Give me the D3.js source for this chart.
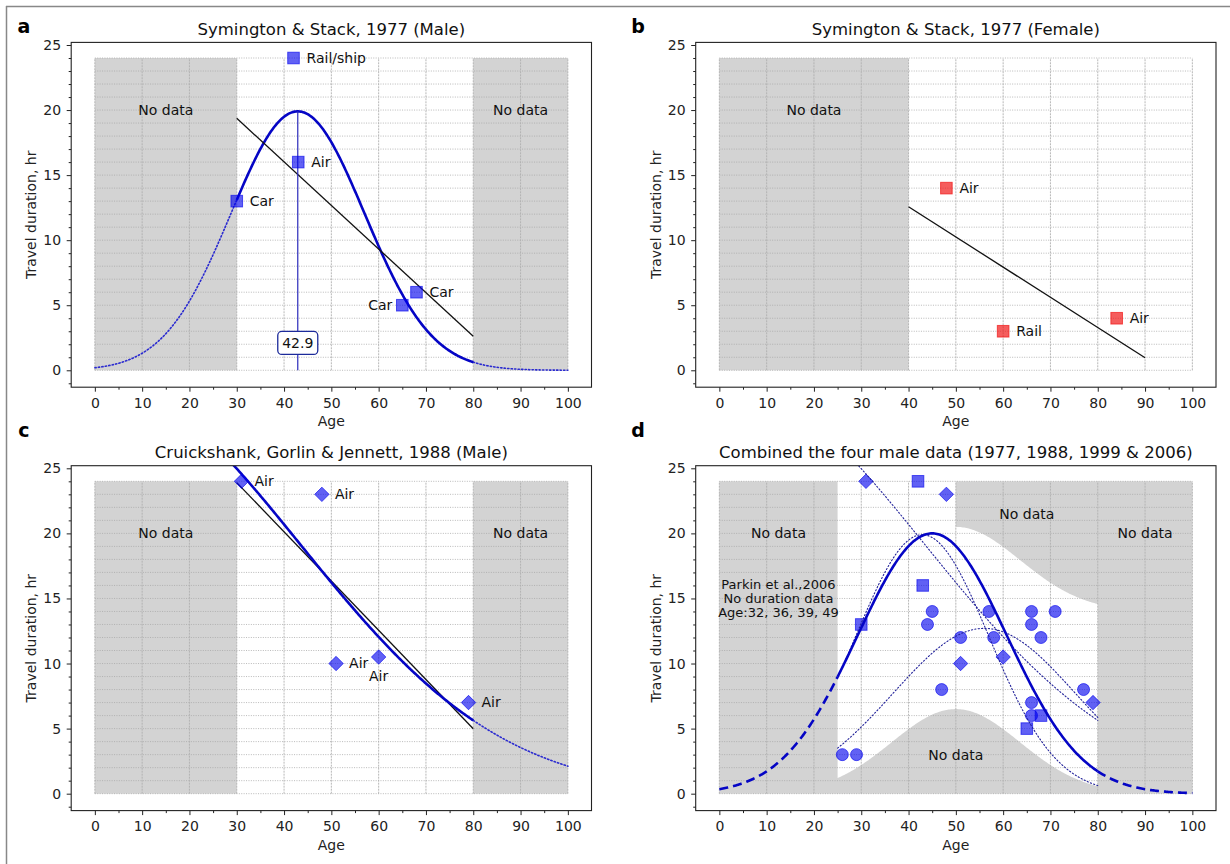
<!DOCTYPE html>
<html>
<head>
<meta charset="utf-8">
<script src="https://cdn.jsdelivr.net/npm/d3@7"></script>
<style>
  body { margin: 0; background: #fff; }
  svg { display: block; font-family: "DejaVu Sans", sans-serif; }
</style>
</head>
<body>
<svg id="fig" width="1230" height="864"></svg>
<script>
// ---------------- data ----------------
const xTicks = [0, 10, 20, 30, 40, 50, 60, 70, 80, 90, 100];
const yTicks = [0, 5, 10, 15, 20, 25];

// Symington & Stack, 1977 — male travellers
const male1977Age   = [30, 42, 43, 65, 68];
const male1977Hours = [13, 24, 16, 5, 6];
const male1977Mode  = ["Car", "Rail/ship", "Air", "Car", "Car"];

// Symington & Stack, 1977 — female travellers
const female1977Age   = [48, 60, 84];
const female1977Hours = [14, 3, 4];
const female1977Mode  = ["Air", "Rail", "Air"];

// Cruickshank, Gorlin & Jennett, 1988 — male travellers
const male1988Age   = [31, 48, 51, 60, 79];
const male1988Hours = [24, 23, 10, 10.5, 7];
const male1988Mode  = ["Air", "Air", "Air", "Air", "Air"];

// 1999 male cases (combined panel)
const male1999Age   = [26, 29, 44, 45, 47, 51, 57, 58, 66, 66, 66, 66, 68, 71, 77];
const male1999Hours = [3, 3, 13, 14, 8, 12, 14, 12, 14, 13, 7, 6, 12, 14, 8];

// Gaussian fits: [peak hours, mean age, sd]
const fit1977     = [19.9, 42.9, 14.1];
const fit1988     = [31.6, 0.7, 42.7];
const fit1999     = [12.7, 56, 19.3];
const fitCombined = [20, 45, 15.8];

// sampled region of the combined data: lower edge and band height
const bandLower = [6.5, 50, 13.6];
const bandHeight = 14;

const parkinNote = ["Parkin et al.,2006", "No duration data", "Age:32, 36, 39, 49"];

// ---------------- helpers ----------------
const svg = d3.select("#fig");
const FONT = "DejaVu Sans, sans-serif";
const BLUE = "#0505c5";
const MARK_BLUE = "#0000ee";

const gauss = (p, x) => p[0] * Math.exp(-((x - p[1]) ** 2) / (2 * p[2] ** 2));
const sample = (p, a, b) => d3.range(a, b + 1e-9, 0.25).map(x => [x, gauss(p, x)]);

function leastSquares(xs, ys) {
  const mx = d3.mean(xs), my = d3.mean(ys);
  const sxy = d3.sum(xs, (x, i) => (x - mx) * (ys[i] - my));
  const sxx = d3.sum(xs, x => (x - mx) ** 2);
  const b = sxy / sxx;
  return x => my + b * (x - mx);
}

const cols = [{ left: 71.2, right: 591.5 }, { left: 695.7, right: 1216 }];
const rows = [{ top: 42.4, bottom: 387.2, title: 35, letter: 33 },
              { top: 465.7, bottom: 810.6, title: 458, letter: 437 }];

function makePanel(col, row, id, title) {
  const { left, right } = cols[col];
  const { top, bottom } = rows[row];
  const x = d3.scaleLinear().domain([-5, 105]).range([left, right]);
  const y = d3.scaleLinear().domain([-1.3, 25.2]).range([bottom, top]);
  const root = svg.append("g");
  svg.append("clipPath").attr("id", "clip-" + id)
    .append("rect").attr("x", left).attr("y", top)
    .attr("width", right - left).attr("height", bottom - top);
  const shade = root.append("g");
  const grid = root.append("g");
  const plot = root.append("g").attr("clip-path", `url(#clip-${id})`);
  const ann = root.append("g");
  const axes = root.append("g");

  // title and panel letter
  root.append("text").attr("x", (left + right) / 2).attr("y", rows[row].title)
    .attr("text-anchor", "middle").attr("font-size", 16.5).attr("fill", "#111")
    .attr("font-family", FONT).text(title);
  root.append("text").attr("x", col === 0 ? 24 : 638).attr("y", rows[row].letter)
    .attr("text-anchor", "middle").attr("font-size", 19).attr("font-weight", "bold")
    .attr("fill", "#000").attr("font-family", FONT).text(id);

  return { x, y, root, shade, grid, plot, ann, axes, left, right, top, bottom, id };
}

function shadeRects(p, spans) {
  spans.forEach(([a, b]) => {
    p.shade.append("rect")
      .attr("x", p.x(a)).attr("y", p.y(24))
      .attr("width", p.x(b) - p.x(a)).attr("height", p.y(0) - p.y(24))
      .attr("fill", "#d3d3d3");
  });
}

function drawGrid(p) {
  d3.range(0, 25, 1).forEach(v => {
    p.grid.append("line")
      .attr("x1", p.x(0)).attr("x2", p.x(100)).attr("y1", p.y(v)).attr("y2", p.y(v))
      .attr("stroke", "#a8a8a8").attr("stroke-width", 0.8).attr("stroke-dasharray", "1,1.4");
  });
  xTicks.forEach(v => {
    p.grid.append("line")
      .attr("x1", p.x(v)).attr("x2", p.x(v)).attr("y1", p.y(0)).attr("y2", p.y(24))
      .attr("stroke", "#b0b0b0").attr("stroke-width", 0.9).attr("stroke-dasharray", "2,1");
  });
}

function drawAxes(p) {
  const clean = sel => {
    sel.select(".domain").remove();
    sel.attr("font-size", null).attr("font-family", null);
    sel.selectAll("line").attr("stroke", "#222");
    sel.selectAll("text").attr("font-size", 14).attr("fill", "#222").attr("font-family", FONT);
  };
  const xMinor = d3.range(5, 100, 10);
  const yMinor = d3.range(-1, 25, 1).filter(v => v % 5 !== 0);
  p.axes.append("g").attr("transform", `translate(0,${p.bottom})`)
    .call(d3.axisBottom(p.x).tickValues(xTicks).tickSize(4.5).tickPadding(6)).call(clean);
  p.axes.append("g").attr("transform", `translate(0,${p.bottom})`)
    .call(d3.axisBottom(p.x).tickValues(xMinor).tickSize(2.5).tickFormat("")).call(clean);
  p.axes.append("g").attr("transform", `translate(${p.left},0)`)
    .call(d3.axisLeft(p.y).tickValues(yTicks).tickSize(4.5).tickPadding(5.5)).call(clean);
  p.axes.append("g").attr("transform", `translate(${p.left},0)`)
    .call(d3.axisLeft(p.y).tickValues(yMinor).tickSize(2.5).tickFormat("")).call(clean);
  p.axes.append("rect")
    .attr("x", p.left).attr("y", p.top)
    .attr("width", p.right - p.left).attr("height", p.bottom - p.top)
    .attr("fill", "none").attr("stroke", "#222").attr("stroke-width", 1.1);
  p.axes.append("text")
    .attr("x", (p.left + p.right) / 2).attr("y", p.bottom + 39)
    .attr("text-anchor", "middle").attr("font-size", 14).attr("fill", "#222")
    .attr("font-family", FONT).text("Age");
  p.axes.append("text")
    .attr("transform", `translate(${p.left - 35},${(p.top + p.bottom) / 2}) rotate(-90)`)
    .attr("text-anchor", "middle").attr("font-size", 14).attr("fill", "#222")
    .attr("font-family", FONT).text("Travel duration, hr");
}

const lineStyles = {
  solid:  { w: 2.6, dash: null, c: BLUE },
  dotted: { w: 1.6, dash: "1.3,2.2", c: "#2a2ad0" },
  thinDot:{ w: 1.1, dash: "1.2,2.2", c: "#22229a" },
  dashed: { w: 2.6, dash: "9,5", c: BLUE }
};

function curve(p, pts, style) {
  const s = lineStyles[style];
  const line = d3.line().x(d => p.x(d[0])).y(d => p.y(d[1]));
  p.plot.append("path").datum(pts).attr("d", line)
    .attr("fill", "none").attr("stroke", s.c).attr("stroke-width", s.w)
    .attr("stroke-dasharray", s.dash)
    .attr("stroke-linecap", style === "dotted" || style === "thinDot" ? "round" : "butt");
}

function regression(p, ages, hours, a, b) {
  const f = leastSquares(ages, hours);
  p.plot.append("line")
    .attr("x1", p.x(a)).attr("y1", p.y(f(a))).attr("x2", p.x(b)).attr("y2", p.y(f(b)))
    .attr("stroke", "#111").attr("stroke-width", 1.3);
}

function markers(p, ages, hours, shape, color, opacity) {
  const g = p.plot.append("g");
  ages.forEach((a, i) => {
    const cx = p.x(a), cy = p.y(hours[i]);
    let el;
    if (shape === "square") {
      el = g.append("rect").attr("x", cx - 5.8).attr("y", cy - 5.8).attr("width", 11.6).attr("height", 11.6);
    } else if (shape === "diamond") {
      el = g.append("path").attr("d", `M${cx},${cy - 7.2}L${cx + 7.2},${cy}L${cx},${cy + 7.2}L${cx - 7.2},${cy}Z`);
    } else {
      el = g.append("circle").attr("cx", cx).attr("cy", cy).attr("r", 6);
    }
    el.attr("fill", color).attr("fill-opacity", opacity)
      .attr("stroke", color).attr("stroke-opacity", opacity).attr("stroke-width", 1);
  });
}

function labels(p, ages, hours, texts, sides) {
  ages.forEach((a, i) => {
    const side = (sides && sides[i]) || "right";
    const cx = p.x(a), cy = p.y(hours[i]);
    const t = p.ann.append("text").attr("font-size", 14).attr("fill", "#111")
      .attr("font-family", FONT).text(texts[i]);
    if (side === "left") {
      t.attr("x", cx - 10).attr("y", cy).attr("dy", "0.35em").attr("text-anchor", "end");
    } else if (side === "below") {
      t.attr("x", cx).attr("y", cy + 19).attr("dy", "0.35em").attr("text-anchor", "middle");
    } else {
      t.attr("x", cx + 13).attr("y", cy).attr("dy", "0.35em").attr("text-anchor", "start");
    }
  });
}

function note(p, x, y, text, size) {
  p.ann.append("text").attr("x", p.x(x)).attr("y", p.y(y)).attr("dy", "0.35em")
    .attr("text-anchor", "middle").attr("font-size", size || 14).attr("fill", "#111")
    .attr("font-family", FONT).text(text);
}

// ---------------- outer frame ----------------
svg.append("line").attr("x1", 6).attr("x2", 1230).attr("y1", 6.5).attr("y2", 6.5)
  .attr("stroke", "#888").attr("stroke-width", 1.5);
svg.append("line").attr("x1", 6.5).attr("x2", 6.5).attr("y1", 6).attr("y2", 864)
  .attr("stroke", "#888").attr("stroke-width", 1.5);

// ---------------- panel a ----------------
{
  const p = makePanel(0, 0, "a", "Symington & Stack, 1977 (Male)");
  shadeRects(p, [[0, 30], [80, 100]]);
  drawGrid(p);
  curve(p, sample(fit1977, 0, 30), "dotted");
  curve(p, sample(fit1977, 80, 100), "dotted");
  curve(p, sample(fit1977, 30, 80), "solid");
  regression(p, male1977Age, male1977Hours, 30, 80);
  // peak marker
  const peakAge = fit1977[1];
  p.plot.append("line")
    .attr("x1", p.x(peakAge)).attr("x2", p.x(peakAge))
    .attr("y1", p.y(0)).attr("y2", p.y(gauss(fit1977, peakAge)))
    .attr("stroke", "#2a2abb").attr("stroke-width", 1.2);
  markers(p, male1977Age, male1977Hours, "square", MARK_BLUE, 0.62);
  const bx = p.x(peakAge), by = p.y(2.1);
  p.ann.append("rect").attr("x", bx - 20).attr("y", by - 11.5).attr("width", 40).attr("height", 23)
    .attr("rx", 4).attr("fill", "#fff").attr("stroke", "#1c2a9a").attr("stroke-width", 1.3);
  p.ann.append("text").attr("x", bx).attr("y", by).attr("dy", "0.35em")
    .attr("text-anchor", "middle").attr("font-size", 14).attr("fill", "#111")
    .attr("font-family", FONT).text(d3.format(".1f")(peakAge));
  labels(p, male1977Age, male1977Hours, male1977Mode, { 3: "left" });
  note(p, 15, 20, "No data");
  note(p, 90, 20, "No data");
  drawAxes(p);
}

// ---------------- panel b ----------------
{
  const p = makePanel(1, 0, "b", "Symington & Stack, 1977 (Female)");
  shadeRects(p, [[0, 40]]);
  drawGrid(p);
  regression(p, female1977Age, female1977Hours, 40, 90);
  markers(p, female1977Age, female1977Hours, "square", "#f01010", 0.68);
  labels(p, female1977Age, female1977Hours, female1977Mode);
  note(p, 20, 20, "No data");
  drawAxes(p);
}

// ---------------- panel c ----------------
{
  const p = makePanel(0, 1, "c", "Cruickshank, Gorlin & Jennett, 1988 (Male)");
  shadeRects(p, [[0, 30], [80, 100]]);
  drawGrid(p);
  curve(p, sample(fit1988, 80, 100), "dotted");
  regression(p, male1988Age, male1988Hours, 30, 80);
  curve(p, sample(fit1988, 29, 80), "solid");
  markers(p, male1988Age, male1988Hours, "diamond", MARK_BLUE, 0.62);
  labels(p, male1988Age, male1988Hours, male1988Mode, { 3: "below" });
  note(p, 15, 20, "No data");
  note(p, 90, 20, "No data");
  drawAxes(p);
}

// ---------------- panel d ----------------
{
  const p = makePanel(1, 1, "d", "Combined the four male data (1977, 1988, 1999 & 2006)");
  shadeRects(p, [[0, 100]]);
  // region covered by the pooled samples
  const area = d3.area().x(d => p.x(d[0])).y0(d => p.y(d[1])).y1(d => p.y(d[2]));
  const leftPart = d3.range(25, 50 + 1e-9, 0.25).map(a => [a, gauss(bandLower, a), 24]);
  const rightPart = d3.range(50, 80 + 1e-9, 0.25).map(a => [a, gauss(bandLower, a), gauss(bandLower, a) + bandHeight]);
  p.shade.append("path").datum(leftPart).attr("d", area).attr("fill", "#fff");
  p.shade.append("path").datum(rightPart).attr("d", area).attr("fill", "#fff");
  drawGrid(p);

  markers(p, male1999Age, male1999Hours, "circle", MARK_BLUE, 0.62);
  markers(p, male1977Age, male1977Hours, "square", MARK_BLUE, 0.62);
  markers(p, male1988Age, male1988Hours, "diamond", MARK_BLUE, 0.62);

  curve(p, sample(fit1977, 25, 80), "thinDot");
  curve(p, sample(fit1988, 25, 80), "thinDot");
  curve(p, sample(fit1999, 25, 80), "thinDot");

  curve(p, sample(fitCombined, 0, 25), "dashed");
  curve(p, sample(fitCombined, 80, 100), "dashed");
  curve(p, sample(fitCombined, 25, 80), "solid");

  note(p, 12.5, 20, "No data");
  note(p, 90, 20, "No data");
  note(p, 65, 21.5, "No data");
  note(p, 50, 3, "No data");
  parkinNote.forEach((t, i) => note(p, 12.5, 16.1 - i * 1.1, t, 13));
  drawAxes(p);
}
</script>
</body>
</html>
